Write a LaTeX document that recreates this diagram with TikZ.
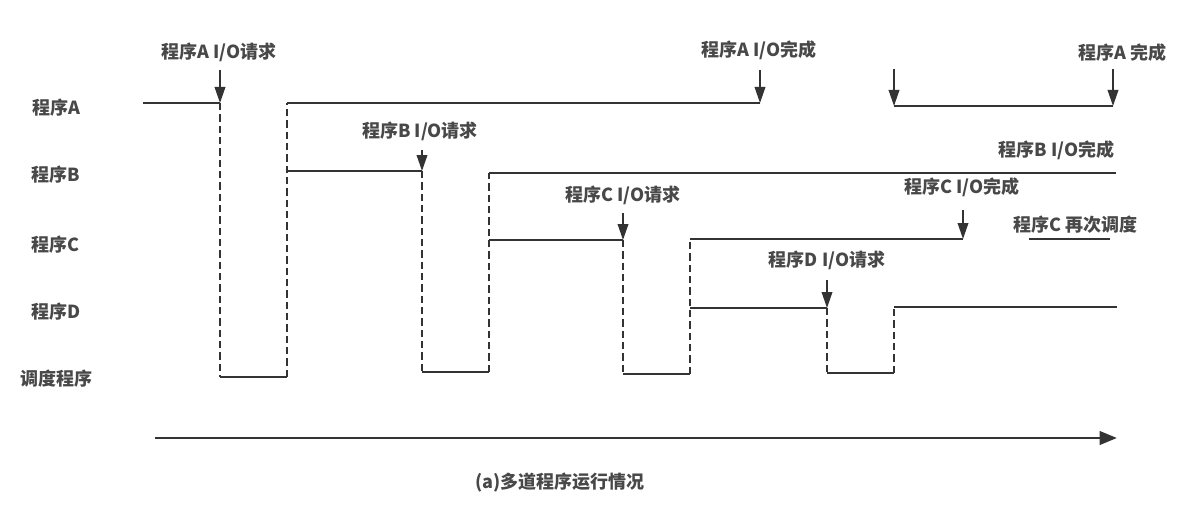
\documentclass[tikz,border=0pt]{standalone}
\usepackage{fontspec}
\newfontfamily\cjk{Noto Sans CJK SC}
\usetikzlibrary{arrows.meta}
\definecolor{ink}{HTML}{333333}
\definecolor{txt}{HTML}{484848}
\tikzset{
  lbl/.style={font=\cjk\bfseries\fontsize{13.5}{15}\selectfont, text=txt, inner sep=0pt},
  run/.style={draw=ink, line width=1.6pt},
  sw/.style={draw=ink, line width=1.6pt, dash pattern=on 5.5pt off 3pt},
  evt/.style={draw=ink, line width=1.1pt, -{Triangle[length=12pt,width=8pt]}},
  axisline/.style={draw=ink, line width=2.2pt, -{Triangle[length=13pt,width=10pt]}}
}
\begin{document}
\begin{tikzpicture}[x=0.75pt,y=-0.75pt]
\useasboundingbox (0,0) rectangle (1189,528);
% row labels
\node[lbl] (lA) at (56,108) {程序A};
\node[lbl] (lB) at (56,175) {程序B};
\node[lbl] (lC) at (56,245) {程序C};
\node[lbl] (lD) at (56,312) {程序D};
\node[lbl] (lS) at (56,379) {调度程序};
% event labels
\node[lbl] (tAreq) at (219,52) {程序A I/O请求};
\node[lbl] (tBreq) at (420,131) {程序B I/O请求};
\node[lbl] (tCreq) at (623,195) {程序C I/O请求};
\node[lbl] (tDreq) at (827,260) {程序D I/O请求};
\node[lbl] (tAdone) at (759,50) {程序A I/O完成};
\node[lbl,anchor=west] (tAend) at (1078,53) {程序A 完成};
\node[lbl,anchor=east] (tBdone) at (1115,150) {程序B I/O完成};
\node[lbl] (tCdone) at (962,187) {程序C I/O完成};
\node[lbl,anchor=west] (tCre) at (1013,225) {程序C 再次调度};
\node[lbl] (cap) at (560,483) {(a)多道程序运行情况};
% key points
\coordinate (a0) at (143,103);
\coordinate (a1) at (220,103);
\coordinate (s1a) at (220,377);
\coordinate (s1b) at (287,377);
\coordinate (a2) at (287,103);
\coordinate (a3) at (760,103);
\coordinate (b1) at (287,171);
\coordinate (b2) at (422,171);
\coordinate (s2a) at (422,372);
\coordinate (s2b) at (489,372);
\coordinate (b3) at (489,173);
\coordinate (b4) at (1116,173);
\coordinate (c1) at (489,240);
\coordinate (c2) at (623,240);
\coordinate (s3a) at (623,374);
\coordinate (s3b) at (690,374);
\coordinate (c3) at (690,239);
\coordinate (c4) at (963,239);
\coordinate (d1) at (690,308);
\coordinate (d2) at (827,308);
\coordinate (s4a) at (827,373);
\coordinate (s4b) at (894,373);
\coordinate (d3) at (894,307);
\coordinate (d4) at (1117,307);
\coordinate (a4) at (894,106);
\coordinate (a5) at (1113,106);
\coordinate (c5) at (1029,239);
\coordinate (c6) at (1110,239);
% run segments
\draw[run] (a0) -- (a1);
\draw[run] (s1a) -- (s1b);
\draw[run] (a2) -- (a3);
\draw[run] (b1) -- (b2);
\draw[run] (s2a) -- (s2b);
\draw[run] (b3) -- (b4);
\draw[run] (c1) -- (c2);
\draw[run] (s3a) -- (s3b);
\draw[run] (c3) -- (c4);
\draw[run] (d1) -- (d2);
\draw[run] (s4a) -- (s4b);
\draw[run] (d3) -- (d4);
\draw[run] (a4) -- (a5);
\draw[run] (c5) -- (c6);
% switches
\draw[sw] (a1) -- (s1a);
\draw[sw] (s1b) -- (a2);
\draw[sw] (b2) -- (s2a);
\draw[sw] (s2b) -- (b3);
\draw[sw] (c2) -- (s3a);
\draw[sw] (s3b) -- (c3);
\draw[sw] (d2) -- (s4a);
\draw[sw] (s4b) -- (d3);
% event arrows
\coordinate (eA) at (220,70);
\coordinate (eB) at (422,150);
\coordinate (eC) at (623,213);
\coordinate (eD) at (827,280);
\coordinate (eAd) at (760,70);
\coordinate (eAr) at (894,69);
\coordinate (eAe) at (1113,69);
\coordinate (eCd) at (963,210);
\draw[evt] (eA) -- (a1);
\draw[evt] (eB) -- (b2);
\draw[evt] (eC) -- (c2);
\draw[evt] (eD) -- (d2);
\draw[evt] (eAd) -- (a3);
\draw[evt] (eAr) -- (a4);
\draw[evt] (eAe) -- (a5);
\draw[evt] (eCd) -- (c4);
% time axis
\coordinate (t0) at (155,438);
\coordinate (t1) at (1117,438);
\draw[axisline] (t0) -- (t1);
\end{tikzpicture}
\end{document}
